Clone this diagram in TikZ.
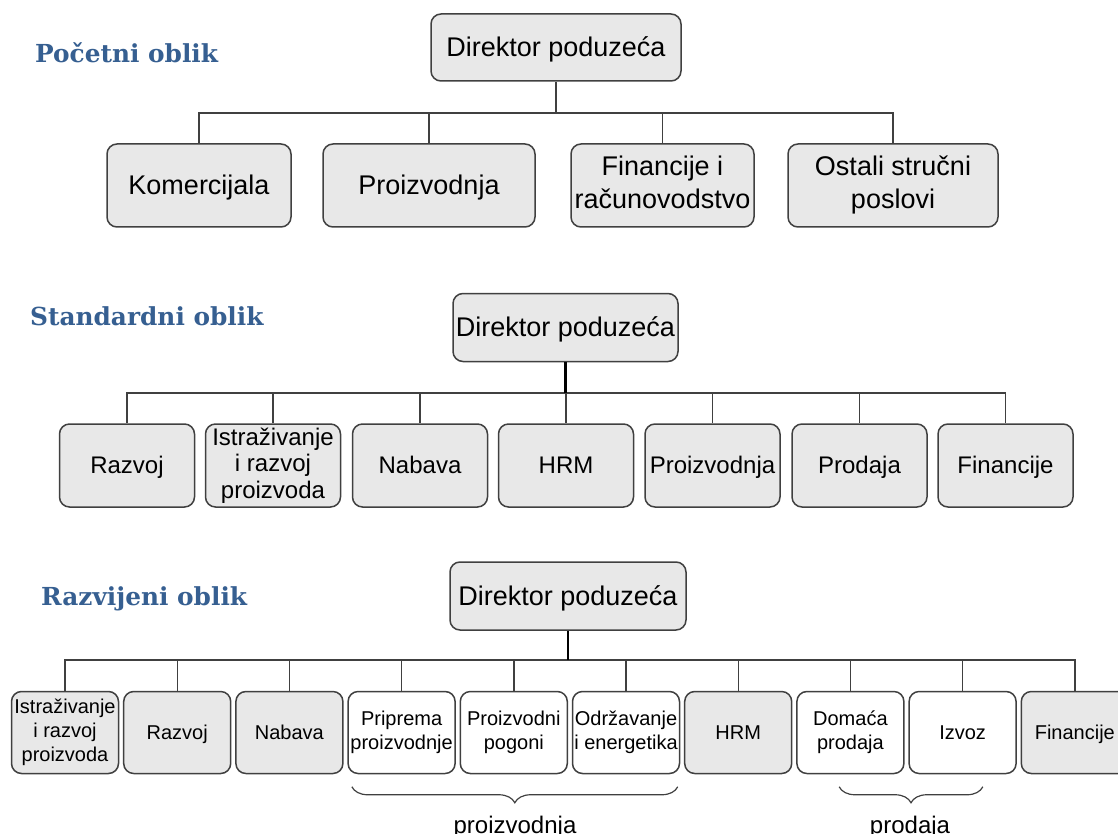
\documentclass[tikz,border=0pt]{standalone}
\usepackage{fontspec}
\setmainfont{Liberation Sans}
\newfontfamily\headfont{DejaVu Serif}
\usetikzlibrary{decorations.pathreplacing}
\definecolor{headblue}{HTML}{365F91}
\definecolor{unitgray}{HTML}{E8E8E8}
\definecolor{linegray}{HTML}{404040}
\newcommand\ustrut{\rule[-0.212em]{0pt}{1.117em}}

\begin{document}
\begin{tikzpicture}[x=1pt, y=-1pt,
  head/.style={font=\headfont\bfseries\fontsize{24.8}{28}\selectfont, text=headblue, anchor=base west, inner sep=0pt},
  unit/.style={draw=linegray, line width=1.5pt, fill=unitgray, rounded corners=10pt, align=center, inner sep=0pt,
    execute at begin node=\ustrut, execute at end node=\ustrut},
  unitw/.style={unit, fill=white},
  sizeA/.style={font=\fontsize{27}{33}\selectfont},
  sizeB/.style={font=\fontsize{24}{26.5}\selectfont, minimum width=135pt, minimum height=83pt},
  sizeC/.style={font=\fontsize{20}{24}\selectfont, minimum width=107pt, minimum height=82pt},
  link/.style={draw=linegray, line width=1.4pt},
  trunk/.style={draw=black, line width=2.6pt},
  grp/.style={decorate, decoration={brace, mirror, amplitude=16pt}, draw=linegray, line width=1.2pt}]
  \useasboundingbox (0,0) rectangle (1118,834);

  % Pocetni oblik
  \node[head] (T1) at (35,63) {Početni oblik};
  \node[unit, sizeA, minimum width=250pt, minimum height=67pt] (D1) at (556,47.5) {Direktor poduzeća};
  \node[unit, sizeA, minimum width=184pt, minimum height=83pt] (K1) at (199,185.5) {Komercijala};
  \node[unit, sizeA, minimum width=212pt, minimum height=83pt] (P1) at (429,185.5) {Proizvodnja};
  \node[unit, sizeA, minimum width=183pt, minimum height=83pt] (F1) at (662.5,185.5) {Financije i\\računovodstvo};
  \node[unit, sizeA, minimum width=210pt, minimum height=83pt] (O1) at (893,185.5) {Ostali stručni\\poslovi};

  \coordinate (B1) at (556,113);
  \draw[link] (D1.south) -- (B1);
  \draw[link] (B1) -| (K1.north) (B1) -| (P1.north) (B1) -| (F1.north) (B1) -| (O1.north);

  % Standardni oblik
  \node[head] (T2) at (30,325) {Standardni oblik};
  \node[unit, sizeA, minimum width=225pt, minimum height=68pt] (D2) at (565.5,327.5) {Direktor poduzeća};
  \node[unit, sizeB] (R2) at (127,465.5) {Razvoj};
  \node[unit, sizeB] (I2) at (273,465.5) {Istraživanje\\i razvoj\\proizvoda};
  \node[unit, sizeB] (N2) at (420,465.5) {Nabava};
  \node[unit, sizeB] (H2) at (566,465.5) {HRM};
  \node[unit, sizeB] (P2) at (712.5,465.5) {Proizvodnja};
  \node[unit, sizeB] (S2) at (859.5,465.5) {Prodaja};
  \node[unit, sizeB] (F2) at (1005.5,465.5) {Financije};

  \coordinate (B2) at (565.5,393);
  \draw[link] (B2) -| (R2.north) (B2) -| (I2.north) (B2) -| (N2.north) (B2) -| (H2.north)
              (B2) -| (P2.north) (B2) -| (S2.north) (B2) -| (F2.north);
  \draw[trunk] (D2.south) -- (B2);

  % Razvijeni oblik
  \node[head] (T3) at (41,605) {Razvijeni oblik};
  \node[unit, sizeA, minimum width=236pt, minimum height=68pt] (D3) at (568,596) {Direktor poduzeća};
  \node[unit, sizeC] (I3) at (65,732.5) {Istraživanje\\i razvoj\\proizvoda};
  \node[unit, sizeC] (R3) at (177.2,732.5) {Razvoj};
  \node[unit, sizeC] (N3) at (289.4,732.5) {Nabava};
  \node[unitw, sizeC] (PP3) at (401.6,732.5) {Priprema\\proizvodnje};
  \node[unitw, sizeC] (PG3) at (513.8,732.5) {Proizvodni\\pogoni};
  \node[unitw, sizeC] (OE3) at (626,732.5) {Održavanje\\i energetika};
  \node[unit, sizeC] (H3) at (738.2,732.5) {HRM};
  \node[unitw, sizeC] (DP3) at (850.4,732.5) {Domaća\\prodaja};
  \node[unitw, sizeC] (IZ3) at (962.6,732.5) {Izvoz};
  \node[unit, sizeC] (F3) at (1074.8,732.5) {Financije};

  \coordinate (B3) at (568,660);
  \draw[link] (B3) -| (I3.north) (B3) -| (R3.north) (B3) -| (N3.north) (B3) -| (PP3.north)
              (B3) -| (PG3.north) (B3) -| (OE3.north) (B3) -| (H3.north) (B3) -| (DP3.north)
              (B3) -| (IZ3.north) (B3) -| (F3.north);
  \draw[trunk] (D3.south) -- (B3);

  % grupe
  \draw[grp] ([shift={(4.5,12.5)}]PP3.south west) -- ([shift={(-2.5,12.5)}]OE3.south east);
  \draw[grp] ([shift={(43,12.5)}]DP3.south west) -- ([shift={(-34,12.5)}]IZ3.south east);
  \node[font=\fontsize{24}{28}\selectfont, anchor=base, inner sep=0pt] (L1) at (515,833) {proizvodnja};
  \node[font=\fontsize{24}{28}\selectfont, anchor=base, inner sep=0pt] (L2) at (910,833) {prodaja};
\end{tikzpicture}
\end{document}
